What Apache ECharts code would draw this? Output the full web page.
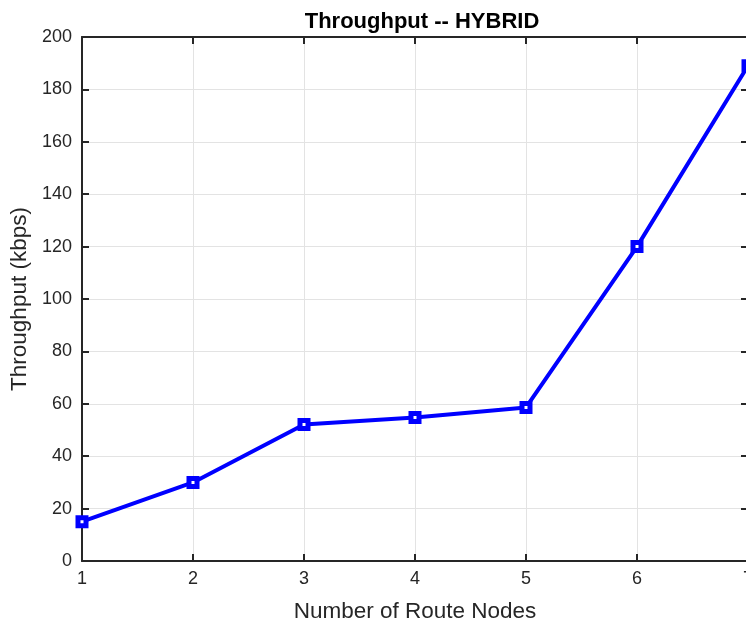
<!DOCTYPE html>
<html><head><meta charset="utf-8">
<script src="https://cdn.jsdelivr.net/npm/echarts@6/dist/echarts.min.js"></script>
<style>html,body{margin:0;padding:0;overflow:hidden;background:#fff}#c{width:760px;height:628px}</style>
</head><body><div id="c"></div>
<script>
const nodes = [1, 2, 3, 4, 5, 6, 7];
const throughput = [15, 30, 52.1, 54.8, 58.6, 120, 189];
const yTicks = [0, 20, 40, 60, 80, 100, 120, 140, 160, 180, 200];

const chart = echarts.init(document.getElementById('c'));
const font = 'Liberation Sans, Arial, sans-serif';
const axisCol = '#262626';
const inTick = {show: true, inside: true, length: 7, lineStyle: {color: axisCol, width: 2}};
chart.setOption({
  animation: false,
  title: {text: 'Throughput -- HYBRID', left: 417, textAlign: 'center', top: 6,
    textStyle: {fontFamily: font, fontSize: 22, fontWeight: 'bold', color: '#000'}},
  grid: {left: 82, right: 12, top: 37, bottom: 65},
  xAxis: [{
    type: 'value', min: 1, max: 7, interval: 1,
    name: 'Number of Route Nodes', nameLocation: 'middle', nameGap: 39,
    nameTextStyle: {fontFamily: font, fontSize: 22.5, color: axisCol},
    axisLine: {onZero: false, lineStyle: {color: axisCol, width: 2}},
    axisTick: inTick,
    axisLabel: {fontFamily: font, fontSize: 18, color: axisCol, margin: 9},
    splitLine: {show: true, lineStyle: {color: '#e3e3e3', width: 1}}
  }, {
    type: 'value', position: 'top', min: 1, max: 7, interval: 1,
    axisLine: {show: true, onZero: false, lineStyle: {color: axisCol, width: 2}},
    axisTick: inTick, axisLabel: {show: false}, splitLine: {show: false}
  }],
  yAxis: [{
    type: 'value', min: 0, max: 200, interval: 20,
    name: 'Throughput (kbps)', nameLocation: 'middle', nameGap: 50, nameRotate: 90,
    nameTextStyle: {fontFamily: font, fontSize: 22.5, color: axisCol},
    axisLine: {show: true, onZero: false, lineStyle: {color: axisCol, width: 2}},
    axisTick: inTick,
    axisLabel: {fontFamily: font, fontSize: 18, color: axisCol, margin: 10,
      formatter: v => yTicks.includes(v) ? String(v) : ''},
    splitLine: {show: true, lineStyle: {color: '#e3e3e3', width: 1}}
  }, {
    type: 'value', position: 'right', min: 0, max: 200, interval: 20,
    axisLine: {show: true, onZero: false, lineStyle: {color: axisCol, width: 2}},
    axisTick: inTick, axisLabel: {show: false}, splitLine: {show: false}
  }],
  series: [{
    type: 'line',
    data: nodes.map((n, i) => [n, throughput[i]]),
    lineStyle: {color: '#0000ff', width: 4},
    symbol: 'rect', symbolSize: 8,
    itemStyle: {color: '#ffffff', borderColor: '#0000ff', borderWidth: 5},
    clip: false
  }]
});
</script></body></html>
